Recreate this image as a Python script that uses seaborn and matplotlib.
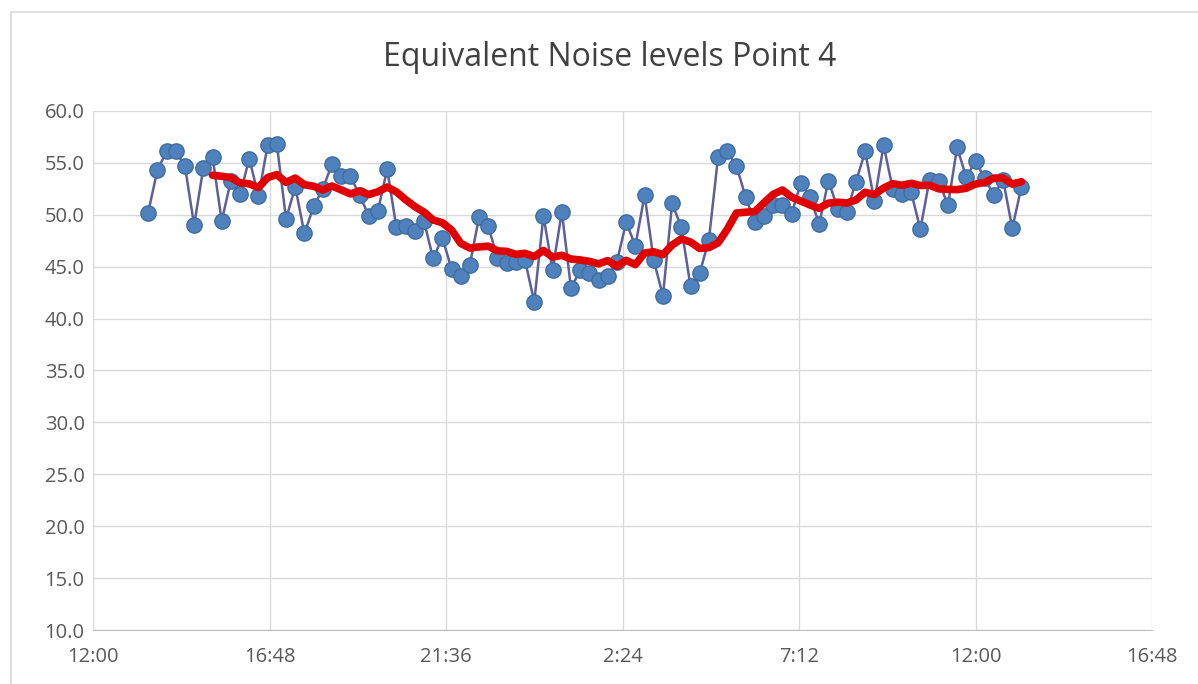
import numpy as np
import pandas as pd
import matplotlib
matplotlib.use("Agg")
import matplotlib.pyplot as plt
import seaborn as sns
from matplotlib.lines import Line2D

# 15-minute Leq readings, starting 13:30 (hours counted from 12:00 on day 1)
leq_levels = [
    50.2, 54.3, 56.1, 56.1, 54.7, 49.0, 54.5, 55.6, 49.4, 53.3,
    52.0, 55.4, 51.8, 56.7, 56.8, 49.6, 52.7, 48.2, 50.8, 52.5,
    54.9, 53.7, 53.7, 51.9, 49.9, 50.4, 54.4, 48.8, 48.9, 48.4,
    49.4, 45.8, 47.8, 44.8, 44.1, 45.2, 49.8, 48.9, 45.8, 45.4,
    45.5, 45.6, 41.6, 49.9, 44.7, 50.3, 42.9, 44.7, 44.4, 43.7,
    44.1, 45.5, 49.3, 47.0, 51.9, 45.6, 42.2, 51.1, 48.8, 43.1,
    44.4, 47.6, 55.6, 56.1, 54.7, 51.7, 49.3, 49.9, 50.9, 50.9,
    50.1, 53.1, 51.7, 49.1, 53.3, 50.6, 50.3, 53.2, 56.1, 51.3,
    56.7, 52.5, 52.0, 52.2, 48.6, 53.4, 53.3, 50.9, 56.5, 53.6,
    55.2, 53.5, 51.9, 53.4, 48.7, 52.7,
]
first_hour = 1.5      # 13:30
step_hours = 0.25     # 15 min
avg_period = 8        # Excel moving-average trendline period

x_ticks = [0, 4.8, 9.6, 14.4, 19.2, 24.0, 28.8]
x_labels = ["12:00", "16:48", "21:36", "2:24", "7:12", "12:00", "16:48"]
y_ticks = [10, 15, 20, 25, 30, 35, 40, 45, 50, 55, 60]

df = pd.DataFrame({"leq": leq_levels})
df["hour"] = first_hour + step_hours * np.arange(len(df))
df["avg"] = df["leq"].rolling(avg_period).mean()

sns.set_style("white")
plt.rcParams["font.family"] = ["Open Sans", "DejaVu Sans"]

W, H = 1198, 684
fig = plt.figure(figsize=(W / 100, H / 100), dpi=100)
ax = fig.add_axes([93 / W, 1 - 630 / H, (1152 - 93) / W, (630 - 111) / H])

# chart area border
fig.add_artist(Line2D([11 / W, 11 / W], [0, 1 - 12 / H], color="#d9d9d9", lw=1.2))
fig.add_artist(Line2D([11 / W, 1], [1 - 12 / H, 1 - 12 / H], color="#d9d9d9", lw=1.2))

sns.lineplot(data=df, x="hour", y="leq", ax=ax, color="#5e5e9c", lw=1.8,
             marker="o", markersize=11, markerfacecolor="#4f81bd",
             markeredgecolor="#3f6d9f", markeredgewidth=1.0, zorder=3)
sns.lineplot(data=df.dropna(), x="hour", y="avg", ax=ax, color="#e00000",
             lw=5.5, zorder=4, solid_capstyle="round")

ax.set_xlim(0, 28.8)
ax.set_ylim(10, 60)
ax.set_xticks(x_ticks)
ax.set_xticklabels(x_labels)
ax.set_yticks(y_ticks)
ax.set_yticklabels([f"{v:.1f}" for v in y_ticks])
ax.grid(True, color="#d9d9d9", lw=1.0)
ax.set_axisbelow(True)
for side in ["top", "right", "left"]:
    ax.spines[side].set_visible(False)
ax.spines["bottom"].set_color("#bfbfbf")
ax.tick_params(axis="both", length=0, labelsize=14.5, colors="#595959")
ax.tick_params(axis="x", pad=12)
ax.tick_params(axis="y", pad=6)
ax.set_xlabel("")
ax.set_ylabel("")

fig.text(610 / W, 1 - 57 / H, "Equivalent Noise levels Point 4",
         ha="center", va="center", fontsize=23, color="#404040")

fig.savefig("out.png", dpi=100)
